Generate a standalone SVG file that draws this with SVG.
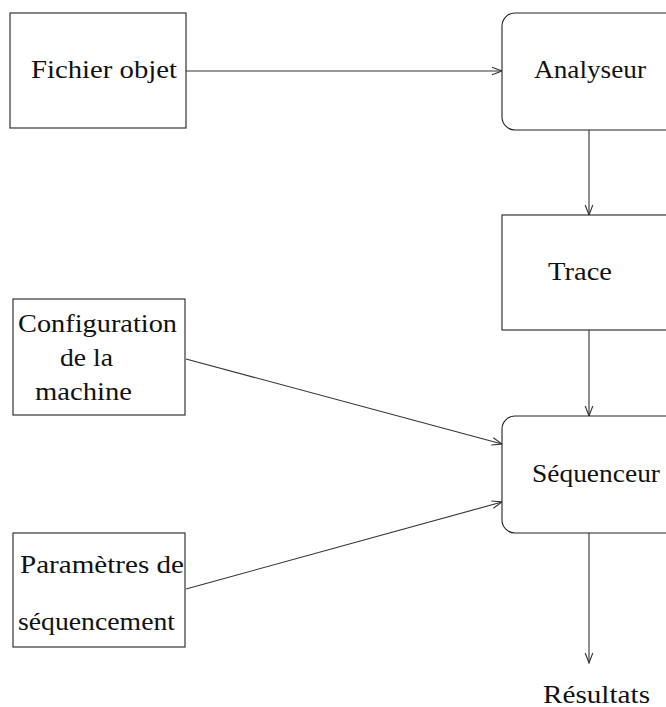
<svg xmlns="http://www.w3.org/2000/svg" width="666" height="707" viewBox="0 0 666 707">
<defs>
<style>
.box{fill:#fff;stroke:#222;stroke-width:1.1}
.lbl{font-family:"Liberation Serif","DejaVu Serif",serif;font-size:24.5px;fill:#111}
.edge{stroke:#333;stroke-width:1.1;fill:none;marker-end:url(#ah)}
</style>
<marker id="ah" markerUnits="userSpaceOnUse" markerWidth="12" markerHeight="10" viewBox="0 0 12 10" refX="11" refY="5" orient="auto">
<path d="M1,1.2 L11,5 L1,8.8" fill="none" stroke="#333" stroke-width="1.1"/>
</marker>
</defs>
<rect width="666" height="707" fill="#fff"/>
<g id="connectors">
<line class="edge" x1="186" y1="71" x2="502" y2="71"/>
<line class="edge" x1="589" y1="130" x2="589" y2="215"/>
<line class="edge" x1="589" y1="330" x2="589" y2="416"/>
<line class="edge" x1="186" y1="359" x2="502" y2="444"/>
<line class="edge" x1="186" y1="589" x2="502" y2="502"/>
<line class="edge" x1="589" y1="533" x2="589" y2="663"/>
</g>
<g id="fichier">
<rect class="box" x="10" y="13" width="176" height="115"/>
<text class="lbl" x="31" y="78" textLength="146" lengthAdjust="spacingAndGlyphs">Fichier objet</text>
</g>
<g id="analyseur">
<rect class="box" x="502" y="13" width="190" height="117" rx="13"/>
<text class="lbl" x="534" y="78" textLength="112" lengthAdjust="spacingAndGlyphs">Analyseur</text>
</g>
<g id="trace">
<rect class="box" x="502" y="215" width="190" height="115"/>
<text class="lbl" x="548" y="280" textLength="64" lengthAdjust="spacingAndGlyphs">Trace</text>
</g>
<g id="config">
<rect class="box" x="13" y="299" width="172" height="116"/>
<text class="lbl" x="18" y="332" textLength="159" lengthAdjust="spacingAndGlyphs">Configuration</text>
<text class="lbl" x="60" y="366" textLength="53" lengthAdjust="spacingAndGlyphs">de la</text>
<text class="lbl" x="35" y="400" textLength="97" lengthAdjust="spacingAndGlyphs">machine</text>
</g>
<g id="sequenceur">
<rect class="box" x="502" y="416" width="190" height="117" rx="13"/>
<text class="lbl" x="532" y="482" textLength="128" lengthAdjust="spacingAndGlyphs">Séquenceur</text>
</g>
<g id="parametres">
<rect class="box" x="13" y="533" width="172" height="114"/>
<text class="lbl" x="20" y="573" textLength="164" lengthAdjust="spacingAndGlyphs">Paramètres de</text>
<text class="lbl" x="18" y="630" textLength="157" lengthAdjust="spacingAndGlyphs">séquencement</text>
</g>
<g id="resultats">
<text class="lbl" x="543" y="703" textLength="107" lengthAdjust="spacingAndGlyphs">Résultats</text>
</g>
</svg>
